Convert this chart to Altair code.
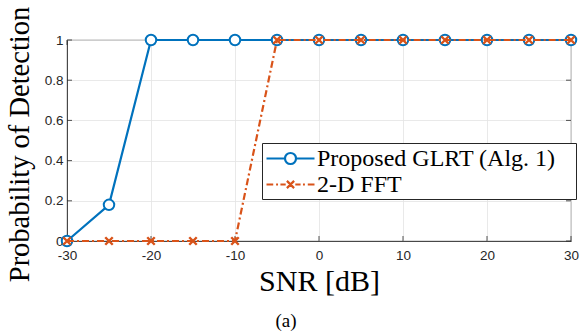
import altair as alt
import pandas as pd

# ---- data ----
snr = [-30, -25, -20, -15, -10, -5, 0, 5, 10, 15, 20, 25, 30]
glrt = [0, 0.18, 1, 1, 1, 1, 1, 1, 1, 1, 1, 1, 1]
fft2d = [0, 0, 0, 0, 0, 1, 1, 1, 1, 1, 1, 1, 1]
series_names = ["Proposed GLRT (Alg. 1)", "2-D FFT"]
x_ticks = [-30, -20, -10, 0, 10, 20, 30]
y_ticks = [0, 0.2, 0.4, 0.6, 0.8, 1]

BLUE = "#0072BD"
ORANGE = "#D95319"
AX = "#262626"

df = pd.DataFrame(
    {
        "snr": snr * 2,
        "pd": glrt + fft2d,
        "series": [series_names[0]] * len(snr) + [series_names[1]] * len(snr),
    }
)
xt = pd.DataFrame({"snr": x_ticks})
yt = pd.DataFrame({"pd": y_ticks})

W, H = 504, 201

xscale = alt.Scale(domain=[-30, 30], nice=False, zero=False)
yscale = alt.Scale(domain=[0, 1], nice=False, zero=False)

x_axis = alt.Axis(
    values=x_ticks,
    labelExpr="'' + datum.value",
    title="SNR [dB]",
    titleFont="Liberation Serif",
    titleFontSize=30,
    titleFontWeight="normal",
    titleColor="black",
    titleBaseline="alphabetic",
    titleX=W / 2,
    titleY=49,
    labelFont="Liberation Sans",
    labelFontSize=13.5,
    labelColor=AX,
    labelPadding=7,
    ticks=False,
    grid=True,
    gridColor="#e3e3e3",
    gridWidth=0.8,
    domainColor=AX,
    domainWidth=0.8,
    labelFlush=False,
)
y_axis = alt.Axis(
    values=y_ticks,
    labelExpr="'' + datum.value",
    title="Probability of Detection",
    titleFont="Liberation Serif",
    titleFontSize=28.5,
    titleFontWeight="normal",
    titleColor="black",
    titleBaseline="alphabetic",
    titleAngle=270,
    titleX=-39,
    titleY=104,
    labelFont="Liberation Sans",
    labelFontSize=13.5,
    labelColor=AX,
    labelPadding=4,
    ticks=False,
    grid=True,
    gridColor="#e3e3e3",
    gridWidth=0.8,
    domainColor=AX,
    domainWidth=0.8,
    labelFlush=False,
)

X = alt.X("snr:Q", scale=xscale, axis=x_axis)
Y = alt.Y("pd:Q", scale=yscale, axis=y_axis)

base = alt.Chart(df)

glrt_line = base.transform_filter(alt.datum.series == series_names[0]).mark_line(
    color=BLUE, strokeWidth=2.2
).encode(x=X, y=Y)
glrt_pts = base.transform_filter(alt.datum.series == series_names[0]).mark_point(
    shape="circle", filled=True, fill="white", stroke=BLUE, strokeWidth=2.0, size=110, opacity=1
).encode(x=X, y=Y)
fft_line = base.transform_filter(alt.datum.series == series_names[1]).mark_line(
    color=ORANGE, strokeWidth=2.2, strokeDash=[7, 3, 2, 3]
).encode(x=X, y=Y)
fft_pts = base.transform_filter(alt.datum.series == series_names[1]).mark_point(
    shape="M-1,-1L1,1M-1,1L1,-1", filled=False, stroke=ORANGE, strokeWidth=2.4, size=56, opacity=1
).encode(x=X, y=Y)

# legend symbols: line + marker drawn as custom paths (unit = 12 px)
r = 0.46
circle_sym = (
    f"M-2,0H-{r}M{r},0H2M{r},0A{r},{r},0,1,1,-{r},0A{r},{r},0,1,1,{r},0Z"
)
c = 0.3
cross_sym = (
    "M-2,0H-1.44M-1.2,0H-1.04M-0.84,0H-0.4M0.4,0H0.84M1.04,0H1.2M1.44,0H2"
    f"M-{c},-{c}L{c},{c}M-{c},{c}L{c},-{c}"
)
legend = alt.Legend(
    title=None,
    orient="none",
    legendX=195,
    legendY=103,
    padding=2,
    strokeColor=AX,
    fillColor="white",
    symbolSize=576,
    symbolOffset=13,
    symbolStrokeWidth=2.2,
    symbolOpacity=1,
    labelFont="Liberation Serif",
    labelFontSize=24,
    labelColor="black",
    labelOffset=13,
    labelLimit=400,
    labelExpr="datum.label + '\u2800'",
    rowPadding=0,
)
legend_layer = base.transform_filter("false").mark_point(filled=False, strokeWidth=2.2).encode(
    x=X,
    y=Y,
    color=alt.Color(
        "series:N",
        scale=alt.Scale(domain=series_names, range=[BLUE, ORANGE]),
        legend=legend,
    ),
    shape=alt.Shape(
        "series:N",
        scale=alt.Scale(domain=series_names, range=[circle_sym, cross_sym]),
        legend=legend,
    ),
)

# inward tick marks (MATLAB style box)
tick_x_bottom = alt.Chart(xt).mark_rule(color=AX, strokeWidth=0.8).encode(
    x=X, y=alt.value(H), y2=alt.value(H - 5)
)
tick_x_top = alt.Chart(xt).mark_rule(color=AX, strokeWidth=0.8).encode(
    x=X, y=alt.value(0), y2=alt.value(5)
)
tick_y_left = alt.Chart(yt).mark_rule(color=AX, strokeWidth=0.8).encode(
    y=Y, x=alt.value(0), x2=alt.value(5)
)
tick_y_right = alt.Chart(yt).mark_rule(color=AX, strokeWidth=0.8).encode(
    y=Y, x=alt.value(W), x2=alt.value(W - 5)
)

caption = alt.Chart(pd.DataFrame({"c": ["(a)"]})).mark_text(
    font="Liberation Serif", fontSize=19, color="black", baseline="middle", align="center"
).encode(text="c:N", x=alt.value(219), y=alt.value(281))

chart = (
    alt.layer(
        glrt_line,
        tick_x_bottom,
        tick_x_top,
        tick_y_left,
        tick_y_right,
        glrt_pts,
        fft_line,
        fft_pts,
        legend_layer,
        caption,
    )
    .properties(
        width=W,
        height=H,
        autosize=alt.AutoSizeParams(type="none"),
        padding={"left": 67, "top": 40, "right": 14, "bottom": 92},
        background="white",
    )
    .configure_view(stroke=AX, strokeWidth=0.8)
)

chart.save("out.html", embed_options={"renderer": "svg", "actions": False})
